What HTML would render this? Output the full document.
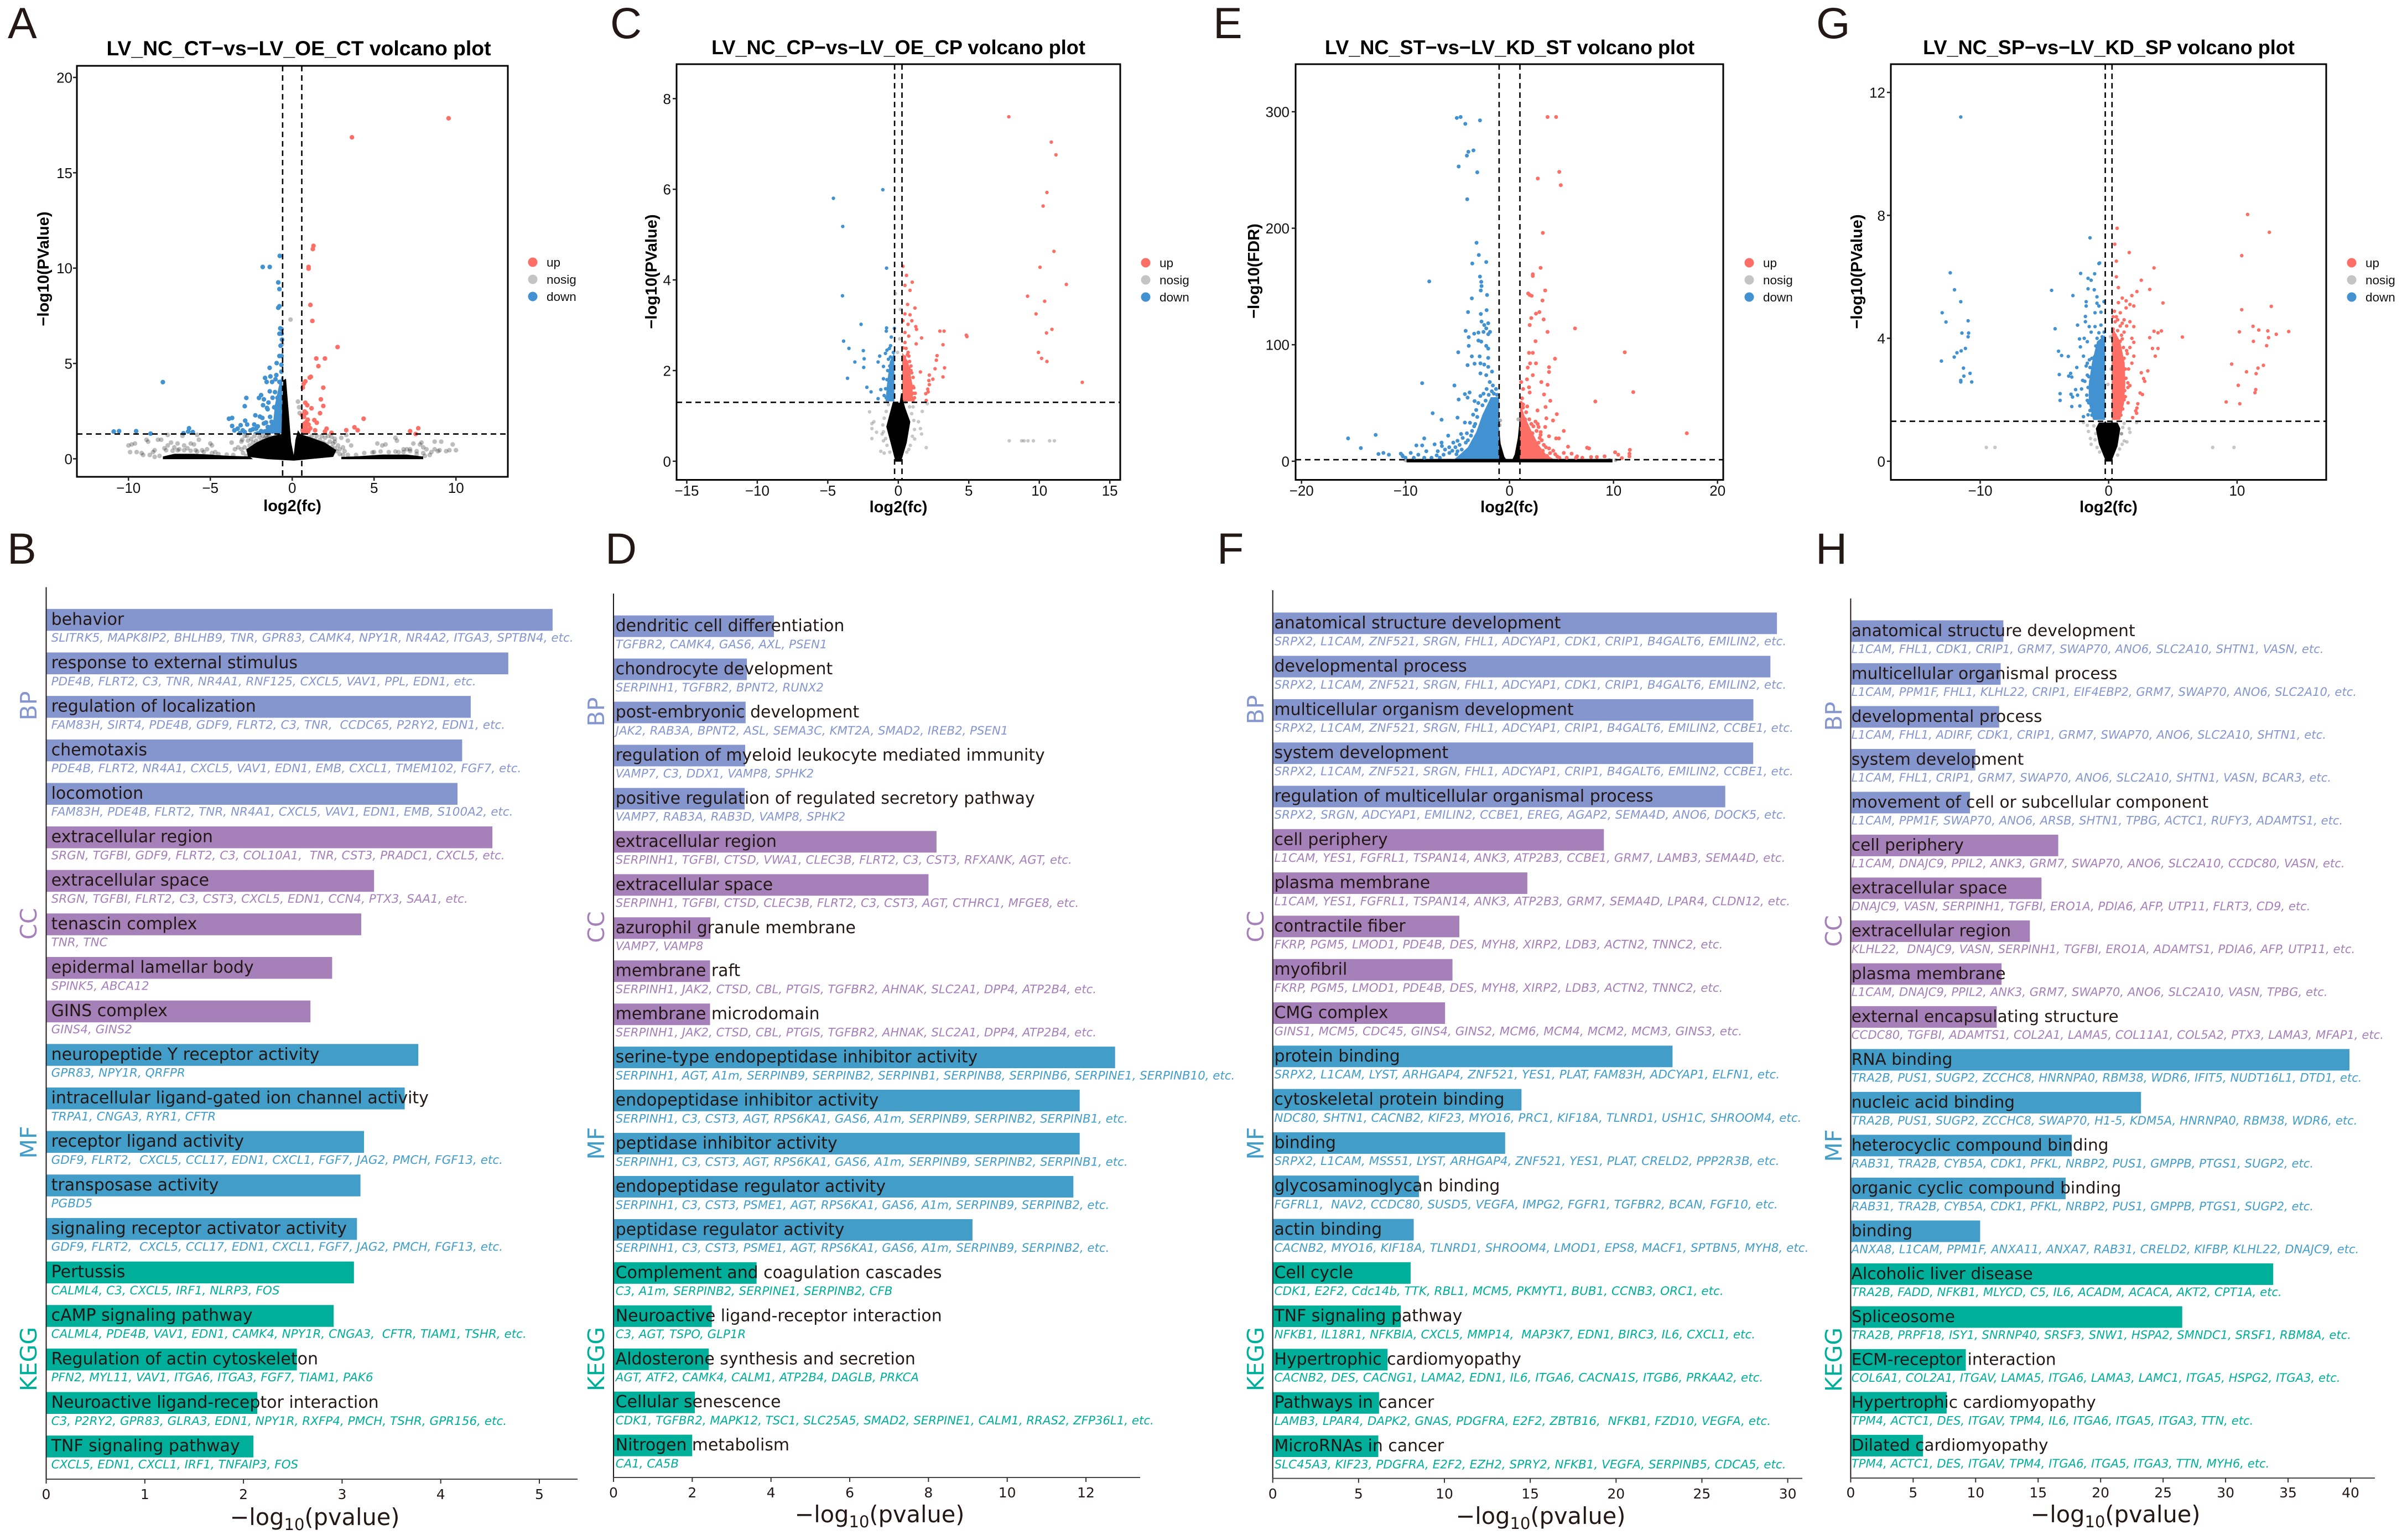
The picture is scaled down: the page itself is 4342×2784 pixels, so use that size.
<!DOCTYPE html>
<html lang="en">
<head>
<meta charset="utf-8">
<title>Volcano plots and enrichment bar charts</title>
<style>
html,body{margin:0;padding:0;background:#fff}
svg{display:block}
.letter{font-family:"Liberation Sans",sans-serif;font-size:79px;fill:#231815}
.vtitle{font-family:"Liberation Sans",sans-serif;font-size:36.1px;font-weight:bold;fill:#000;text-anchor:middle}
.vaxis{font-family:"Liberation Sans",sans-serif;font-size:29px;font-weight:bold;fill:#000;text-anchor:middle}
.vtick{font-family:"Liberation Sans",sans-serif;font-size:26px;fill:#111}
.vleg{font-family:"Liberation Sans",sans-serif;font-size:22.5px;fill:#111}
.blabel{font-family:"DejaVu Sans",sans-serif;fill:#231815;white-space:pre}
.bgene{font-family:"DejaVu Sans",sans-serif;font-style:italic;white-space:pre}
.bcat{font-family:"DejaVu Sans",sans-serif;font-size:41px;text-anchor:middle}
.btick{font-family:"DejaVu Sans",sans-serif;font-size:25px;fill:#231815;text-anchor:middle}
.bxlabel{font-family:"DejaVu Sans",sans-serif;font-size:41.5px;fill:#231815;text-anchor:middle}
</style>
</head>
<body>
<svg id="figure" xmlns="http://www.w3.org/2000/svg" width="4342" height="2784" viewBox="0 0 4342 2784">
<rect x="0" y="0" width="4342" height="2784" fill="#fff"/>
<text class="letter" x="14" y="69">A</text>
<text class="letter" x="1103" y="69">C</text>
<text class="letter" x="2193" y="69">E</text>
<text class="letter" x="3283" y="69">G</text>
<text class="letter" x="13" y="1019">B</text>
<text class="letter" x="1094" y="1019">D</text>
<text class="letter" x="2200" y="1019">F</text>
<text class="letter" x="3282" y="1019">H</text>
<text class="vtitle" style="font-size:37.3px" x="540" y="100">LV_NC_CT−vs−LV_OE_CT volcano plot</text>
<text class="vtitle" x="1624" y="98">LV_NC_CP−vs−LV_OE_CP volcano plot</text>
<text class="vtitle" x="2729" y="98">LV_NC_ST−vs−LV_KD_ST volcano plot</text>
<text class="vtitle" x="3812" y="98">LV_NC_SP−vs−LV_KD_SP volcano plot</text>
<g id="plots"></g>
</svg>
<script>
/* ---------- Volcano A ---------- */
const volcanoAUp = [[9.55,17.86],[3.65,16.86],[1.3,11.17],[1.26,11],[1,10.06],[1,9.97],[1.11,8.07],[1.23,7.23],[2.77,5.86],[1.47,5.26],[2,5.26],[1.6,4.86],[1.14,4.3],[1.07,4.26],[.8,4.06],[.7,3.93],[.65,3.73],[1.9,3.73],[1.75,3.12],[.8,2.94],[.92,2.81],[1.9,2.77],[1.18,2.65],[1.7,2.39],[.76,2.48],[.6,2.3],[4.36,2.1],[1.35,2.03],[1.5,1.89],[.88,1.94],[1,1.8],[.76,1.85],[2.1,1.58],[3.8,1.65],[4,1.5],[3.3,1.5],[7.2,1.45],[7.7,1.6],[7.54,1.3],[2.4,1.36],[2,1.43],[1.4,1.49],[1,1.49],[.64,1.49],[.72,2.2],[.85,2.4],[.66,1.7],[.8,1.6],[1.1,1.6],[.95,2.05]];
const volcanoADown = [[-.76,10.64],[-1.8,10.06],[-1.37,10.06],[-.85,9.25],[-.78,8.9],[-.85,7.92],[-.78,8],[-.73,6.84],[-.65,6.8],[-.78,6.56],[-.65,6.56],[-.62,6.25],[-.71,5.93],[-.78,5.39],[-.65,5.39],[-.95,5.02],[-1.38,4.77],[-.66,4.93],[-.66,4.57],[-7.9,4.02],[-1.66,4.24],[-1.33,4.32],[-.97,4.39],[-1.56,4.03],[-1.23,4.03],[-1.02,4.17],[-.78,4.03],[-1.37,3.54],[-1.9,3.34],[-2.8,3.19],[-2.03,3.19],[-1.73,3.12],[-2.9,2.76],[-1.78,2.81],[-1.54,2.67],[-2.25,2.28],[-1.97,2.21],[-3.86,2.1],[-3.67,2.14],[-2.87,2],[-1.82,2.14],[-3.67,1.72],[-3.15,1.76],[-2.75,1.8],[-3.53,1.49],[-3.33,1.58],[-3.02,1.49],[-2.55,1.49],[-2.32,1.8],[-2.2,1.58],[-1.73,1.85],[-1.49,1.67],[-1.26,1.94],[-10.9,1.43],[-10.57,1.45],[-9.53,1.45],[-8.65,1.32],[-6.64,1.34],[-6.3,1.6],[-6.35,1.43],[-6.07,1.4],[-1.5,2.6],[-1.35,2.2],[-1.6,1.9],[-1.2,3.2],[-1.05,3.5],[-.9,3.2],[-1.1,2.7],[-2.1,1.7],[-2.4,1.55],[-2.9,1.4],[-3.2,1.35],[-1.9,1.45],[-1.3,1.5],[-1.45,2.95]];
const volcanoANosig = [[-10,.7],[-9.9,.35],[-9.8,.75],[-9.6,.8],[-9.5,.35],[-9.2,.3],[-9.1,.2],[-8.9,1],[-8.8,.9],[-8.7,.2],[-8.5,.35],[-8.4,.45],[-8.2,1],[-8,1],[-7.8,.55],[-7.6,.7],[-7.6,1.25],[-7.4,.85],[-7.2,.6],[-7,.8],[-6.9,.5],[-6.7,1.2],[-6.6,.7],[-6.4,.55],[-6.2,.8],[-6,.75],[-5.9,.45],[-5.8,1.25],[-5.7,1],[-5.5,.45],[-5.2,.5],[-5,.8],[-4.9,.7],[-4.7,.35],[-3.7,.85],[-3.5,.5],[-3.3,.6],[-3.1,.9],[-3.1,.5],[2.6,.9],[3,1.1],[3.3,1.25],[3.4,.95],[3.6,.7],[5,.35],[5.2,.8],[5.5,.7],[5.7,.75],[6.3,1.1],[6.4,.95],[6.5,.35],[6.8,.5],[7,.5],[7.2,.5],[7.4,.8],[7.6,.4],[7.8,.75],[7.9,.85],[8,.6],[8,.3],[8.2,.5],[8.4,.2],[8.5,.35],[8.7,.9],[8.7,.5],[8.9,.4],[9,.45],[9.1,.9],[9.4,.4],[9.6,.45],[9.8,.75],[10,.45],[-.1,7.3],[-.62,6],[.35,3],[.42,2.7],[.45,2.4],[-3.05,1],[-2.9,1.2],[-2.7,.95],[-2.75,1.2],[-2.6,.7],[-2.5,1.05],[-2.4,.85],[-2.3,1.2],[-2.2,.95],[-2.15,.7],[-2,1.15],[-1.9,.95],[-1.8,1.2],[-1.7,1.05],[-1.6,1.2],[-1.5,1.15],[-1.4,1.2],[-2.9,.6],[-3,.3],[-2.7,.45],[-2.5,.35],[-2.8,.15],[-2.35,.45],[1,1.1],[1.2,1.2],[1.4,1],[1.5,1.2],[1.7,1],[1.8,1.2],[1.9,.85],[2,1.1],[2.1,.75],[2.2,1.2],[2.3,.9],[2.4,.6],[2.5,.8],[2.6,.55],[2.7,.4],[2.8,.7],[2.9,.5],[3.1,.6],[3.2,.4],[2.6,1.05],[2.4,1.15],[2.9,.25],[3.1,.2],[-7.7,.45],[-7.3,.42],[-7,.45],[-6.6,.45],[-6.2,.42],[-5.8,.38],[-5.4,.35],[-4.9,.3],[-4.5,.25],[-4,.22],[-3.6,.2],[3.4,.2],[3.9,.2],[4.4,.3],[4.9,.33],[5.4,.38],[5.9,.35],[6.3,.38],[6.8,.35],[7.2,.4],[7.6,.25],[8.1,.15],[-8.1,.15],[-8.4,.1]];
const volcanoADownDense = [[-.66,4.3],[-.83,3.75],[-1.05,2.85],[-1.15,2.03],[-1.5,1.6],[-2.3,1.4],[-2.4,1.32],[-.6,1.32],[-.6,4.3]];
const volcanoAUpDense = [[.6,1.9],[.9,1.8],[1.1,1.32],[.6,1.32]];
const volcanoADenseMid = [[-.55,4.12],[-.38,4.2],[-.2,2.3],[-.07,.9],[.09,.2],[.2,1],[.35,1.5],[.5,1.3],[1.2,1.1],[2,.85],[2.7,.45],[2.5,.1],[.1,-.1],[-1.5,-.02],[-2.7,.1],[-2.8,.5],[-2.2,.85],[-1.7,1.05],[-1.2,1.2],[-.66,1.3],[-.62,2.3]];
const volcanoADenseLeft = [[-7.9,-.02],[-2.4,-.02],[-2.6,.12],[-4,.16],[-5,.22],[-6,.26],[-7.2,.26],[-7.9,.12]];
const volcanoADenseRight = [[3,-.02],[8,-.02],[8,.12],[7,.22],[5.5,.22],[4,.13],[3,.1]];
const volcanoAXTicks = [-10,-5,0,5,10];
const volcanoAYTicks = [0,5,10,15,20];
const volcanoAHLine = [1.3];
const volcanoAVLines = [-.585,.585];

/* ---------- Volcano C ---------- */
const volcanoCUp = [[7.84,7.6],[10.85,7.04],[11.18,6.76],[10.54,5.93],[10.27,5.63],[11.04,4.63],[10.05,4.28],[11.92,3.9],[9.17,3.64],[10.38,3.53],[9.77,3.25],[10.9,2.91],[10.51,2.83],[9.94,2.4],[10.16,2.27],[10.54,2.2],[13.05,1.74],[.33,4.3],[.58,4.1],[.99,3.95],[.47,3.88],[.83,3.77],[.66,3.46],[1.18,3.38],[.47,3.25],[.83,3.23],[.33,3.1],[.96,3.1],[.69,3.02],[1.24,2.97],[1.29,2.91],[.47,2.84],[1.65,2.72],[.74,2.76],[2.95,2.87],[3.25,2.87],[4.82,2.78],[4.87,2.75],[1.27,2.59],[3.17,2.57],[.47,2.62],[.55,2.49],[2.75,2.33],[2.7,2.23],[3.28,2.06],[2.61,2.04],[2.2,1.9],[3.17,1.86],[2.45,1.81],[2.17,1.78],[1.57,1.97],[2.2,1.69],[2.09,1.59],[2.12,1.53],[1.95,1.49],[1.98,1.34],[.7,2.4],[.9,2.1],[1.05,1.65],[1.1,1.5],[.95,1.95],[.75,2.32],[.35,2.5],[.45,2.3],[.6,2.15],[.75,2.05],[.9,2],[1.05,1.85],[1.1,1.62],[1.2,1.5],[1.15,1.4],[1.05,1.35],[.5,2.1],[.38,2.2],[.65,2.35],[.8,2.2]];
const volcanoCDown = [[-4.6,5.8],[-1.1,5.99],[-3.94,5.18],[-.83,4.26],[-3.96,3.65],[-2.64,3.02],[-.83,2.94],[-.85,2.87],[-.28,2.93],[-.5,2.74],[-3.88,2.65],[-3.5,2.49],[-2.48,2.44],[-2.42,2.26],[-3.08,2.19],[-2.45,2.07],[-1.43,2.19],[-1.32,2.32],[-.91,2.38],[-.63,2.49],[-3.6,1.83],[-2.23,1.63],[-1.93,1.53],[-1.24,1.58],[-1.43,1.38],[-1.05,1.82],[-1.05,2.09],[-.8,2.45],[-.55,2.55],[-.35,2.4],[-.45,2.2],[-.6,2.1],[-.75,2],[-.8,1.8],[-.9,1.6],[-.85,1.4],[-1,1.45],[-.55,2.3],[-.7,2.25]];
const volcanoCNosig = [[7.87,.45],[8.75,.45],[8.92,.45],[9.2,.45],[9.58,.45],[10.73,.45],[11.07,.45],[-2.04,1.09],[-1.87,.83],[-1.73,.87],[-1.87,.72],[-1.54,.64],[-1.87,.5],[-1.05,.45],[-1.24,.22],[-1,.18],[1.7,1.1],[1.43,.87],[1.57,.72],[1.65,.6],[1.16,.49],[.74,.26],[1.98,.3],[2.06,1.27],[-.2,3.7],[.15,3.35],[.1,2.7],[-.05,2.4],[-.85,1.1],[-.7,1.25],[-1,.95],[-1.1,.8],[-1.15,.6],[-.9,.5],[-.8,.35],[-.6,.2],[-1.05,.65],[.8,1.2],[.95,1.05],[1.1,.9],[1.15,.7],[1,.55],[.85,.35],[.6,.2],[.5,1.3],[1.05,1.2]];
const volcanoCDownDense = [[-.28,1.32],[-.28,2.4],[-.6,2.2],[-.8,1.7],[-.9,1.32]];
const volcanoCUpDense = [[.28,1.32],[.28,2.4],[.7,2.2],[1,1.7],[1.05,1.32]];
const volcanoCDenseMid = [[-.4,1.29],[-.65,1],[-.85,.76],[-.55,.41],[-.2,-.01],[.2,-.01],[.6,.41],[.85,.87],[.5,1.17],[.2,1.5],[.1,1.29],[-.08,1.29]];
const volcanoCXTicks = [-15,-10,-5,0,5,10,15];
const volcanoCYTicks = [0,2,4,6,8];
const volcanoCHLine = [1.3];
const volcanoCVLines = [-.263,.263];

/* ---------- Volcano E ---------- */
const volcanoEUp = [[3.66,295.5],[4.48,295.5],[4.78,248.4],[2.72,242.7],[4.93,237],[3.2,196],[2.99,166],[2.24,160.5],[2.24,159],[3.43,146.6],[1.79,144],[1.94,142.7],[3.17,138],[2.13,142],[2.87,128],[2.54,126.7],[2.09,122.9],[3.28,121.7],[1.94,116.9],[3.66,111],[6.3,114],[2.5,103],[1.87,93],[2.24,93],[11.08,93.5],[4.37,88],[1.98,84],[2.54,84],[3.8,80.7],[1.75,80.4],[2.24,73.9],[3.8,76.6],[1.68,70.3],[3.06,68],[1.12,68],[3.66,65.6],[1.31,62],[1.87,63.5],[1.94,59],[11.9,59.3],[3.32,57.3],[3.92,51.9],[8.25,51.3],[1.31,48.7],[3.47,46.6],[2.69,43.6],[4.55,40.4],[3.54,36.8],[4.18,35],[17.05,24],[5.22,26],[4.48,19.6],[4.75,19.6],[3.8,21.4],[2.99,22.6],[3.43,29.4],[2.8,29.4],[11.57,9.8],[11.53,6.5],[11.53,4.2],[10.15,7.7],[10.45,5.6],[10.8,2.7],[7.46,11.6],[7.65,11],[5.63,12.5],[5.97,6.5],[5.22,7.1],[6.5,4.2],[7.84,3.6],[8.4,3.6],[9.14,4.2],[1.1,50],[1.3,46],[1.6,42],[1.5,36],[1.9,36],[2.1,32],[2.3,30],[2.6,26],[2.2,24],[2.9,20],[3.1,18],[2.8,16],[3.3,14],[3.5,12],[3.8,11],[3.2,9],[3.9,7],[4.2,9],[4.4,6],[4.6,4],[3.6,4.5],[2.5,34],[1.7,47],[1.2,54],[4.8,3],[5.5,3],[6.4,3],[7,3],[3,25],[2.7,32]];
const volcanoEDown = [[-5.07,294.7],[-4.7,295.5],[-4.25,289.6],[-2.84,292.6],[-3.47,266.8],[-3.96,265.6],[-4.1,262.3],[-4.89,253],[-3.1,248],[-4.07,224.9],[-3.17,187.5],[-2.95,177],[-2.24,171],[-3.58,169.7],[-2.84,158.5],[-2.72,154],[-7.72,154.3],[-2.69,150.4],[-2.76,146.6],[-2.16,142.7],[-3.62,139.8],[-2.2,129.7],[-3.99,128],[-2.76,126.4],[-2.69,119.9],[-2.05,118.4],[-2.43,116.9],[-2.24,114],[-4.22,111.9],[-2.99,110.4],[-3.4,109.5],[-1.87,111],[-2.5,111],[-2.05,109],[-3.92,106.5],[-2.99,103.6],[-2.72,102.7],[-3.92,99],[-2.24,99],[-2.05,96.7],[-4.93,93.5],[-3.62,90],[-2.87,90],[-2.05,88.7],[-3.36,83.7],[-4.03,82.5],[-2.8,84],[-2.43,83],[-2.05,81],[-1.68,76.9],[-2.8,75.4],[-2.24,73.9],[-8.4,67],[-5.3,65],[-3.84,59],[-4.29,57.6],[-4.03,54.6],[-4.89,53],[-3.36,51.6],[-7.39,41.2],[-6.53,35.6],[-5,37.4],[-4.29,33.2],[-12.87,22.6],[-15.52,19.6],[-14.3,11.3],[-8.2,19.6],[-12.6,6.2],[-12.13,7.1],[-11.6,5.6],[-10.45,6.5],[-10.26,4.2],[-9.5,7.1],[-8.96,13.6],[-8.4,13.6],[-8.77,5.6],[-8,8.6],[-7.2,14.5],[-6.53,16],[-6.9,8.6],[-5.9,22],[-5.41,16],[-5,17.5],[-4.66,23.4],[-5.78,7.1],[-5,8.6],[-6.34,5.6],[-1.3,62],[-1.6,65],[-1.9,68],[-2.2,62],[-2.5,58],[-2.8,56],[-3,50],[-2.6,48],[-3.2,44],[-3.5,40],[-3.8,33],[-3.3,32],[-3.6,26],[-4.1,24],[-4.5,20],[-4.2,16],[-4.8,14],[-5.2,12],[-5.5,9],[-5.8,12],[-6.2,10],[-6.5,13],[-4.6,10],[-5.1,6],[-3.1,38],[-2.3,52],[-1.5,58],[-1.2,57],[-1.7,60],[-2,57],[-4,18],[-3.7,22],[-3.4,30],[-7.5,3],[-7,5],[-6.7,3],[-8.2,3],[-9.2,3],[-10,3],[-10.3,5]];
const volcanoENosig = [[-.9,35],[-.95,31],[.85,36],[-9.3,.9],[9.6,1],[10.2,.9],[-10,.8]];
const volcanoEDownDense = [[-1,55],[-1.8,55],[-2.6,40],[-3.2,25],[-4,12],[-5,4],[-5.4,1],[-1,1]];
const volcanoEUpDense = [[1,52],[1.4,40],[2,28],[2.8,14],[3.5,6],[4.2,2],[4.2,1],[1,1]];
const volcanoEDenseBand = [[-9.9,-1],[9.9,-1],[9.9,2],[-9.9,2]];
const volcanoEDenseLeft = [[-1,28],[-.85,15],[-.5,4],[-.2,0],[-1,0]];
const volcanoEDenseRight = [[.2,0],[.5,6],[.8,20],[1,38],[1,0]];
const volcanoEXTicks = [-20,-10,0,10,20];
const volcanoEYTicks = [0,100,200,300];
const volcanoEHLine = [1.3];
const volcanoEVLines = [-1,1];

/* ---------- Volcano G ---------- */
const volcanoGUp = [[10.82,8.03],[12.51,7.45],[10.36,6.69],[12.66,5.04],[10.36,4.93],[11.24,4.39],[11.69,4.27],[10.18,4.21],[12.39,4.24],[14.02,4.22],[13.05,4.13],[12.45,4.02],[11.27,3.9],[12.3,3.76],[9.58,3.16],[12.05,3.12],[11.63,3.03],[10.73,2.91],[11.48,2.85],[10.09,2.47],[11.45,2.33],[11.39,2.23],[9.15,1.93],[10.21,1.87],[.66,7.58],[.48,7.06],[1.6,6.79],[.6,6.51],[3.53,6.29],[.6,6],[2.54,5.89],[3.2,5.59],[.76,5.65],[2.2,5.52],[1.81,5.39],[1.06,5.31],[1.36,5.22],[.76,5.16],[4.23,5.15],[1.66,5.1],[1.96,5.05],[1.36,4.99],[.45,4.88],[.91,4.83],[.51,4.54],[1.06,4.49],[1.66,4.54],[1.96,4.38],[3.53,4.23],[4.11,4.24],[3.84,4.18],[3.2,4.02],[5.74,4.04],[1.81,4],[1.06,3.98],[1.96,3.87],[3.41,3.67],[3.84,3.67],[1.66,3.7],[3.63,3.42],[1.96,3.42],[1.81,3.19],[3.05,2.94],[2.54,2.88],[2.72,2.69],[2.81,2.6],[1.66,2.46],[2.45,2.22],[2.63,2.17],[2.27,1.87],[1.51,1.9],[2.2,1.73],[2.11,1.64],[2.18,1.56],[1.87,1.42],[.7,4.6],[.9,4.4],[1.2,4.2],[1.4,3.6],[1.55,3],[1.5,2.4],[1.3,2.1],[.35,4.3],[.5,4.1],[.7,4.25],[.9,3.9],[1,4.1],[1.15,3.7],[1.2,3.35],[1.3,3],[1.35,2.7],[1.25,2.3],[1.2,2],[1.1,1.7],[.95,1.5],[1.45,3.5],[1.5,2.55],[.8,3.75],[.35,4.7],[.6,4.7],[1.2,4.6],[1.4,4.4]];
const volcanoGDown = [[-11.51,11.2],[-12.33,6.13],[-12,5.58],[-11.51,5.19],[-12.96,4.83],[-12.66,4.53],[-10.94,4.57],[-11.42,4.17],[-10.9,4.17],[-10.94,4.05],[-11.15,3.67],[-11.48,3.59],[-11.81,3.53],[-12.02,3.39],[-13.02,3.26],[-11.3,3.03],[-10.79,2.86],[-11.27,2.77],[-11.51,2.63],[-11.51,2.58],[-10.66,2.58],[-1.45,7.27],[-.76,6.43],[-.7,6.45],[-2.18,6.11],[-1.09,6.1],[-1.6,5.95],[-1.36,5.89],[-4.44,5.56],[-1.6,5.61],[-1.12,5.58],[-2.78,5.39],[-.91,5.35],[-1.75,5.19],[-.91,5.14],[-.36,5.19],[-1.75,5.05],[-.76,5.05],[-1.06,4.83],[-.6,4.85],[-1.81,4.71],[-2.42,4.43],[-1.81,4.54],[-4.17,4.31],[-1.51,4.38],[-1.06,4.38],[-.6,4.43],[-1.36,4.2],[-.76,4.18],[-2.27,3.98],[-1.9,4],[-1.66,3.89],[-2.2,3.72],[-3.9,3.58],[-3.66,3.44],[-3.14,3.41],[-1.96,3.42],[-2.48,3.05],[-1.66,3.19],[-2.96,2.86],[-3.84,2.82],[-3.11,2.77],[-2.87,2.74],[-2.02,2.63],[-1.66,2.8],[-2.57,2.33],[-2.11,2.35],[-3.78,2.2],[-2.93,2.18],[-2.42,2.15],[-2.81,2.09],[-3.78,1.98],[-1.66,1.98],[-2.87,1.78],[-2.24,1.8],[-1.96,1.45],[-1.6,1.51],[-.4,3.75],[-.6,3.9],[-.8,3.6],[-1,3.75],[-1.1,3.4],[-1.3,3.35],[-1.45,3.05],[-1.55,2.75],[-1.6,2.4],[-1.7,2.15],[-1.55,1.9],[-1.45,1.65],[-1.3,1.5],[-.35,4.2],[-.5,4.05],[-.9,4],[-1.25,2.1],[-1.4,2.6],[-1.5,3.3],[-1.75,3.1],[-1.85,2.6]];
const volcanoGNosig = [[-9.52,.45],[-8.85,.45],[8.1,.45],[9.76,.45],[-1.96,1.26],[-1.66,1.17],[-1.57,.97],[-1.36,.55],[-1.42,.74],[1.21,1.23],[1.6,1.06],[1.66,.94],[1,.89],[1.21,.66],[1.42,.63],[2.18,1.26],[.15,4.05],[.2,3],[-.05,2.5],[-1,.9],[-1.05,.7],[-.9,.45],[-.7,.3],[1,.9],[1.05,.55],[.85,.4],[.7,.2],[-1.15,1.15],[1.1,1.1]];
const volcanoGDownDense = [[-.27,4.1],[-.9,3.9],[-1.3,3.2],[-1.55,2.5],[-1.55,1.9],[-1.2,1.34],[-.27,1.34]];
const volcanoGUpDense = [[.24,4.4],[.9,3.9],[1.25,3.2],[1.3,2.5],[1.2,1.9],[.9,1.34],[.24,1.34]];
const volcanoGDenseMid = [[-.76,1.26],[-1,1.06],[-.76,.55],[-.21,-.01],[.21,-.01],[.69,.49],[.91,1.06],[.69,1.26]];
const volcanoGXTicks = [-10,0,10];
const volcanoGYTicks = [0,4,8,12];
const volcanoGHLine = [1.3];
const volcanoGVLines = [-.263,.263];

/* ---------- Enrichment B ---------- */
const barBLabels = ["behavior","response to external stimulus","regulation of localization","chemotaxis","locomotion","extracellular region","extracellular space","tenascin complex","epidermal lamellar body","GINS complex","neuropeptide Y receptor activity","intracellular ligand-gated ion channel activity","receptor ligand activity","transposase activity","signaling receptor activator activity","Pertussis","cAMP signaling pathway","Regulation of actin cytoskeleton","Neuroactive ligand-receptor interaction","TNF signaling pathway"];
const barBValues = [5.134,4.685,4.304,4.217,4.17,4.524,3.324,3.194,2.899,2.679,3.773,3.635,3.222,3.186,3.151,3.12,2.915,2.541,2.14,2.101];
const barBGenes = ["SLITRK5, MAPK8IP2, BHLHB9, TNR, GPR83, CAMK4, NPY1R, NR4A2, ITGA3, SPTBN4, etc.","PDE4B, FLRT2, C3, TNR, NR4A1, RNF125, CXCL5, VAV1, PPL, EDN1, etc.","FAM83H, SIRT4, PDE4B, GDF9, FLRT2, C3, TNR,  CCDC65, P2RY2, EDN1, etc.","PDE4B, FLRT2, NR4A1, CXCL5, VAV1, EDN1, EMB, CXCL1, TMEM102, FGF7, etc.","FAM83H, PDE4B, FLRT2, TNR, NR4A1, CXCL5, VAV1, EDN1, EMB, S100A2, etc.","SRGN, TGFBI, GDF9, FLRT2, C3, COL10A1,  TNR, CST3, PRADC1, CXCL5, etc.","SRGN, TGFBI, FLRT2, C3, CST3, CXCL5, EDN1, CCN4, PTX3, SAA1, etc.","TNR, TNC","SPINK5, ABCA12","GINS4, GINS2","GPR83, NPY1R, QRFPR","TRPA1, CNGA3, RYR1, CFTR","GDF9, FLRT2,  CXCL5, CCL17, EDN1, CXCL1, FGF7, JAG2, PMCH, FGF13, etc.","PGBD5","GDF9, FLRT2,  CXCL5, CCL17, EDN1, CXCL1, FGF7, JAG2, PMCH, FGF13, etc.","CALML4, C3, CXCL5, IRF1, NLRP3, FOS","CALML4, PDE4B, VAV1, EDN1, CAMK4, NPY1R, CNGA3,  CFTR, TIAM1, TSHR, etc.","PFN2, MYL11, VAV1, ITGA6, ITGA3, FGF7, TIAM1, PAK6","C3, P2RY2, GPR83, GLRA3, EDN1, NPY1R, RXFP4, PMCH, TSHR, GPR156, etc.","CXCL5, EDN1, CXCL1, IRF1, TNFAIP3, FOS"];
const barBTicks = [0,1,2,3,4,5];

/* ---------- Enrichment D ---------- */
const barDLabels = ["dendritic cell differentiation","chondrocyte development","post-embryonic development","regulation of myeloid leukocyte mediated immunity","positive regulation of regulated secretory pathway","extracellular region","extracellular space","azurophil granule membrane","membrane raft","membrane microdomain","serine-type endopeptidase inhibitor activity","endopeptidase inhibitor activity","peptidase inhibitor activity","endopeptidase regulator activity","peptidase regulator activity","Complement and coagulation cascades","Neuroactive ligand-receptor interaction","Aldosterone synthesis and secretion","Cellular senescence","Nitrogen metabolism"];
const barDValues = [4.075,3.387,3.355,3.344,3.333,8.204,8,2.462,2.452,2.452,12.74,11.84,11.84,11.68,9.118,3.634,2.495,2.419,2.065,2];
const barDGenes = ["TGFBR2, CAMK4, GAS6, AXL, PSEN1","SERPINH1, TGFBR2, BPNT2, RUNX2","JAK2, RAB3A, BPNT2, ASL, SEMA3C, KMT2A, SMAD2, IREB2, PSEN1","VAMP7, C3, DDX1, VAMP8, SPHK2","VAMP7, RAB3A, RAB3D, VAMP8, SPHK2","SERPINH1, TGFBI, CTSD, VWA1, CLEC3B, FLRT2, C3, CST3, RFXANK, AGT, etc.","SERPINH1, TGFBI, CTSD, CLEC3B, FLRT2, C3, CST3, AGT, CTHRC1, MFGE8, etc.","VAMP7, VAMP8","SERPINH1, JAK2, CTSD, CBL, PTGIS, TGFBR2, AHNAK, SLC2A1, DPP4, ATP2B4, etc.","SERPINH1, JAK2, CTSD, CBL, PTGIS, TGFBR2, AHNAK, SLC2A1, DPP4, ATP2B4, etc.","SERPINH1, AGT, A1m, SERPINB9, SERPINB2, SERPINB1, SERPINB8, SERPINB6, SERPINE1, SERPINB10, etc.","SERPINH1, C3, CST3, AGT, RPS6KA1, GAS6, A1m, SERPINB9, SERPINB2, SERPINB1, etc.","SERPINH1, C3, CST3, AGT, RPS6KA1, GAS6, A1m, SERPINB9, SERPINB2, SERPINB1, etc.","SERPINH1, C3, CST3, PSME1, AGT, RPS6KA1, GAS6, A1m, SERPINB9, SERPINB2, etc.","SERPINH1, C3, CST3, PSME1, AGT, RPS6KA1, GAS6, A1m, SERPINB9, SERPINB2, etc.","C3, A1m, SERPINB2, SERPINE1, SERPINB2, CFB","C3, AGT, TSPO, GLP1R","AGT, ATF2, CAMK4, CALM1, ATP2B4, DAGLB, PRKCA","CDK1, TGFBR2, MAPK12, TSC1, SLC25A5, SMAD2, SERPINE1, CALM1, RRAS2, ZFP36L1, etc.","CA1, CA5B"];
const barDTicks = [0,2,4,6,8,10,12];

/* ---------- Enrichment F ---------- */
const barFLabels = ["anatomical structure development","developmental process","multicellular organism development","system development","regulation of multicellular organismal process","cell periphery","plasma membrane","contractile fiber","myofibril","CMG complex","protein binding","cytoskeletal protein binding","binding","glycosaminoglycan binding","actin binding","Cell cycle","TNF signaling pathway","Hypertrophic cardiomyopathy","Pathways in cancer","MicroRNAs in cancer"];
const barFValues = [29.37,28.99,28,27.99,26.36,19.29,14.83,10.87,10.47,10.04,23.29,14.49,13.54,8.52,8.21,8.03,7.46,6.69,6.19,6.15];
const barFGenes = ["SRPX2, L1CAM, ZNF521, SRGN, FHL1, ADCYAP1, CDK1, CRIP1, B4GALT6, EMILIN2, etc.","SRPX2, L1CAM, ZNF521, SRGN, FHL1, ADCYAP1, CDK1, CRIP1, B4GALT6, EMILIN2, etc.","SRPX2, L1CAM, ZNF521, SRGN, FHL1, ADCYAP1, CRIP1, B4GALT6, EMILIN2, CCBE1, etc.","SRPX2, L1CAM, ZNF521, SRGN, FHL1, ADCYAP1, CRIP1, B4GALT6, EMILIN2, CCBE1, etc.","SRPX2, SRGN, ADCYAP1, EMILIN2, CCBE1, EREG, AGAP2, SEMA4D, ANO6, DOCK5, etc.","L1CAM, YES1, FGFRL1, TSPAN14, ANK3, ATP2B3, CCBE1, GRM7, LAMB3, SEMA4D, etc.","L1CAM, YES1, FGFRL1, TSPAN14, ANK3, ATP2B3, GRM7, SEMA4D, LPAR4, CLDN12, etc.","FKRP, PGM5, LMOD1, PDE4B, DES, MYH8, XIRP2, LDB3, ACTN2, TNNC2, etc.","FKRP, PGM5, LMOD1, PDE4B, DES, MYH8, XIRP2, LDB3, ACTN2, TNNC2, etc.","GINS1, MCM5, CDC45, GINS4, GINS2, MCM6, MCM4, MCM2, MCM3, GINS3, etc.","SRPX2, L1CAM, LYST, ARHGAP4, ZNF521, YES1, PLAT, FAM83H, ADCYAP1, ELFN1, etc.","NDC80, SHTN1, CACNB2, KIF23, MYO16, PRC1, KIF18A, TLNRD1, USH1C, SHROOM4, etc.","SRPX2, L1CAM, MSS51, LYST, ARHGAP4, ZNF521, YES1, PLAT, CRELD2, PPP2R3B, etc.","FGFRL1,  NAV2, CCDC80, SUSD5, VEGFA, IMPG2, FGFR1, TGFBR2, BCAN, FGF10, etc.","CACNB2, MYO16, KIF18A, TLNRD1, SHROOM4, LMOD1, EPS8, MACF1, SPTBN5, MYH8, etc.","CDK1, E2F2, Cdc14b, TTK, RBL1, MCM5, PKMYT1, BUB1, CCNB3, ORC1, etc.","NFKB1, IL18R1, NFKBIA, CXCL5, MMP14,  MAP3K7, EDN1, BIRC3, IL6, CXCL1, etc.","CACNB2, DES, CACNG1, LAMA2, EDN1, IL6, ITGA6, CACNA1S, ITGB6, PRKAA2, etc.","LAMB3, LPAR4, DAPK2, GNAS, PDGFRA, E2F2, ZBTB16,  NFKB1, FZD10, VEGFA, etc.","SLC45A3, KIF23, PDGFRA, E2F2, EZH2, SPRY2, NFKB1, VEGFA, SERPINB5, CDCA5, etc."];
const barFTicks = [0,5,10,15,20,25,30];

/* ---------- Enrichment H ---------- */
const barHLabels = ["anatomical structure development","multicellular organismal process","developmental process","system development","movement of cell or subcellular component","cell periphery","extracellular space","extracellular region","plasma membrane","external encapsulating structure","RNA binding","nucleic acid binding","heterocyclic compound binding","organic cyclic compound binding","binding","Alcoholic liver disease","Spliceosome","ECM-receptor interaction","Hypertrophic cardiomyopathy","Dilated cardiomyopathy"];
const barHValues = [12.22,12,11.88,9.98,9.55,16.61,15.27,14.34,12.07,11.69,39.91,23.23,17.7,17.2,10.36,33.81,26.53,9.21,7.68,5.79];
const barHGenes = ["L1CAM, FHL1, CDK1, CRIP1, GRM7, SWAP70, ANO6, SLC2A10, SHTN1, VASN, etc.","L1CAM, PPM1F, FHL1, KLHL22, CRIP1, EIF4EBP2, GRM7, SWAP70, ANO6, SLC2A10, etc.","L1CAM, FHL1, ADIRF, CDK1, CRIP1, GRM7, SWAP70, ANO6, SLC2A10, SHTN1, etc.","L1CAM, FHL1, CRIP1, GRM7, SWAP70, ANO6, SLC2A10, SHTN1, VASN, BCAR3, etc.","L1CAM, PPM1F, SWAP70, ANO6, ARSB, SHTN1, TPBG, ACTC1, RUFY3, ADAMTS1, etc.","L1CAM, DNAJC9, PPIL2, ANK3, GRM7, SWAP70, ANO6, SLC2A10, CCDC80, VASN, etc.","DNAJC9, VASN, SERPINH1, TGFBI, ERO1A, PDIA6, AFP, UTP11, FLRT3, CD9, etc.","KLHL22,  DNAJC9, VASN, SERPINH1, TGFBI, ERO1A, ADAMTS1, PDIA6, AFP, UTP11, etc.","L1CAM, DNAJC9, PPIL2, ANK3, GRM7, SWAP70, ANO6, SLC2A10, VASN, TPBG, etc.","CCDC80, TGFBI, ADAMTS1, COL2A1, LAMA5, COL11A1, COL5A2, PTX3, LAMA3, MFAP1, etc.","TRA2B, PUS1, SUGP2, ZCCHC8, HNRNPA0, RBM38, WDR6, IFIT5, NUDT16L1, DTD1, etc.","TRA2B, PUS1, SUGP2, ZCCHC8, SWAP70, H1-5, KDM5A, HNRNPA0, RBM38, WDR6, etc.","RAB31, TRA2B, CYB5A, CDK1, PFKL, NRBP2, PUS1, GMPPB, PTGS1, SUGP2, etc.","RAB31, TRA2B, CYB5A, CDK1, PFKL, NRBP2, PUS1, GMPPB, PTGS1, SUGP2, etc.","ANXA8, L1CAM, PPM1F, ANXA11, ANXA7, RAB31, CRELD2, KIFBP, KLHL22, DNAJC9, etc.","TRA2B, FADD, NFKB1, MLYCD, C5, IL6, ACADM, ACACA, AKT2, CPT1A, etc.","TRA2B, PRPF18, ISY1, SNRNP40, SRSF3, SNW1, HSPA2, SMNDC1, SRSF1, RBM8A, etc.","COL6A1, COL2A1, ITGAV, LAMA5, ITGA6, LAMA3, LAMC1, ITGA5, HSPG2, ITGA3, etc.","TPM4, ACTC1, DES, ITGAV, TPM4, IL6, ITGA6, ITGA5, ITGA3, TTN, etc.","TPM4, ACTC1, DES, ITGAV, TPM4, ITGA6, ITGA5, ITGA3, TTN, MYH6, etc."];
const barHTicks = [0,5,10,15,20,25,30,35,40];

/* ---------- Shared categories ---------- */
const categoryNames = ["BP","CC","MF","KEGG"];
const categoryColors = ["#8596cf","#a580b9","#429dc8","#00af9a"];
const rowsPerCategory = [5,5,5,5];

/* ---------- Layout (not data) ---------- */
const colorUp = "#fb6f66", colorDown = "#4291d1";
const SVGNS = "http://www.w3.org/2000/svg";
const plotsRoot = document.getElementById("plots");

function mk(tag, attrs, parent) {
  const e = document.createElementNS(SVGNS, tag);
  for (const k in attrs) e.setAttribute(k, attrs[k]);
  parent.appendChild(e);
  return e;
}
function fmt(v) { return String(v).replace("-", "\u2212"); }

function drawVolcano(cfg) {
  const g = mk("g", {}, plotsRoot);
  
  
  const sx = v => cfg.x0 + v * cfg.xUnit;
  const sy = v => cfg.y0 - v * cfg.yUnit;
  const poly = (pts, fill, name) => {
    const p = mk("polygon", {points: pts.map(d => sx(d[0]).toFixed(1) + "," + sy(d[1]).toFixed(1)).join(" "), fill: fill}, g);
    
    
  };
  cfg.dense.forEach(d => poly(d.pts, d.fill, cfg.id + '-' + d.name));
  const dots = (pts, fill, op, name) => pts.forEach(d => {
    const c = mk("circle", {cx: sx(d[0]).toFixed(1), cy: sy(d[1]).toFixed(1), r: cfg.r, fill: fill, "fill-opacity": op}, g);
    
    
  });
  dots(cfg.nosig, "#000", cfg.nosigOp, cfg.id + '-nosig-point');
  dots(cfg.down, colorDown, 1, cfg.id + '-down-point');
  dots(cfg.up, colorUp, 1, cfg.id + '-up-point');
  const F = cfg.frame;
  cfg.hline.forEach(v => {
    const l = mk("line", {x1: F[0], x2: F[2], y1: sy(v), y2: sy(v), stroke: "#000", "stroke-width": 2.6, "stroke-dasharray": "10 7"}, g);
    
    
  });
  cfg.vline.forEach(v => {
    const l = mk("line", {x1: sx(v), x2: sx(v), y1: F[1], y2: F[3], stroke: "#000", "stroke-width": 2.6, "stroke-dasharray": "10 7"}, g);
    
    
  });
  const fr = mk("rect", {x: F[0], y: F[1], width: F[2] - F[0], height: F[3] - F[1], fill: "none", stroke: "#000", "stroke-width": 3}, g);
  
  
  cfg.xTicks.forEach(v => {
    const t = mk("line", {x1: sx(v), x2: sx(v), y1: F[3], y2: F[3] + 7, stroke: "#222", "stroke-width": 2.5}, g);
    
    
    const s = mk("text", {x: sx(v), y: cfg.xTickY, "text-anchor": "middle", class: "vtick"}, g);
    s.textContent = fmt(v);
    
    
  });
  cfg.yTicks.forEach(v => {
    const t = mk("line", {x1: F[0] - 7, x2: F[0], y1: sy(v), y2: sy(v), stroke: "#222", "stroke-width": 2.5}, g);
    
    
    const s = mk("text", {x: cfg.yTickX, y: sy(v) + 9.5, "text-anchor": "end", class: "vtick"}, g);
    s.textContent = fmt(v);
    
    
  });
  const xl = mk("text", {x: (F[0] + F[2]) / 2, y: cfg.xLabelY, class: "vaxis"}, g);
  xl.textContent = "log2(fc)";
  
  
  const yl = mk("text", {class: "vaxis", transform: "translate(" + cfg.yLabelX + "," + cfg.yLabelY + ") rotate(-90)"}, g);
  yl.textContent = cfg.yLabel;
  
  
  [["up", colorUp, 1], ["nosig", "#c4c4c4", 1], ["down", colorDown, 1]].forEach((e, i) => {
    const cy = cfg.legY + i * 31;
    const c = mk("circle", {cx: cfg.legX, cy: cy, r: 8.5, fill: e[1]}, g);
    
    
    const s = mk("text", {x: cfg.legX + 25, y: cy + 8, class: "vleg"}, g);
    s.textContent = e[0];
    
    
  });
}

function drawBars(cfg) {
  const g = mk("g", {}, plotsRoot);
  
  
  const sx = v => cfg.x0 + v * cfg.xUnit;
  let row = 0;
  rowsPerCategory.forEach((n, ci) => {
    const color = categoryColors[ci];
    for (let k = 0; k < n; k++, row++) {
      const top = cfg.top + row * cfg.pitch;
      const r = mk("rect", {x: cfg.x0, y: top.toFixed(1), width: (sx(cfg.values[row]) - cfg.x0).toFixed(1), height: cfg.barH, fill: color}, g);
      
      
      const t = mk("text", {x: cfg.labelX, y: (top + 28.5).toFixed(1), class: "blabel", "font-size": cfg.labelSize}, g);
      t.textContent = cfg.labels[row];
      
      
      const s = mk("text", {x: cfg.labelX, y: (top + 59.3).toFixed(1), class: "bgene", "font-size": cfg.geneSize, fill: color}, g);
      s.textContent = cfg.genes[row];
      
      
    }
    const c = mk("text", {class: "bcat", fill: color, transform: "translate(" + cfg.catX + "," + cfg.catY[ci] + ") rotate(-90)"}, g);
    c.textContent = categoryNames[ci];
    
    
  });
  const a1 = mk("line", {x1: cfg.x0, x2: cfg.x0, y1: cfg.axisTop, y2: cfg.axisBottom, stroke: "#231815", "stroke-width": 2}, g);
  
  
  const a2 = mk("line", {x1: cfg.x0, x2: cfg.axisEnd, y1: cfg.axisBottom, y2: cfg.axisBottom, stroke: "#444", "stroke-width": 2}, g);
  
  
  cfg.ticks.forEach(v => {
    const t = mk("line", {x1: sx(v), x2: sx(v), y1: cfg.axisBottom, y2: cfg.axisBottom + 8, stroke: "#333", "stroke-width": 2}, g);
    
    
    const s = mk("text", {x: sx(v), y: cfg.tickY, class: "btick"}, g);
    s.textContent = fmt(v);
    
    
  });
  const xl = mk("text", {x: cfg.xLabelX, y: cfg.xLabelY, class: "bxlabel"}, g);
  
  
  xl.appendChild(document.createTextNode("\u2212log"));
  mk("tspan", {dy: 9, "font-size": 29}, xl).textContent = "10";
  mk("tspan", {dy: -9}, xl).textContent = "(pvalue)";
}

drawVolcano({id:"volcano-a",frame:[139,119,918,862],x0:528.2,xUnit:29.6,y0:829.4,yUnit:34.47,r:4.2,nosigOp:.26,
  up:volcanoAUp,down:volcanoADown,nosig:volcanoANosig,hline:volcanoAHLine,vline:volcanoAVLines,xTicks:volcanoAXTicks,yTicks:volcanoAYTicks,
  dense:[{name:"down-dense",pts:volcanoADownDense,fill:colorDown},{name:"up-dense",pts:volcanoAUpDense,fill:colorUp},{name:"nosig-dense-mid",pts:volcanoADenseMid,fill:"#000"},{name:"nosig-dense-left",pts:volcanoADenseLeft,fill:"#000"},{name:"nosig-dense-right",pts:volcanoADenseRight,fill:"#000"}],
  xTickY:891,yTickX:131,xLabelY:924,yLabel:"\u2212log10(PValue)",yLabelX:88,yLabelY:486,legX:963,legY:474});
drawVolcano({id:"volcano-c",frame:[1223,116,2025,867.5],x0:1623.8,xUnit:25.49,y0:833.8,yUnit:81.94,r:3.2,nosigOp:.22,
  up:volcanoCUp,down:volcanoCDown,nosig:volcanoCNosig,hline:volcanoCHLine,vline:volcanoCVLines,xTicks:volcanoCXTicks,yTicks:volcanoCYTicks,
  dense:[{name:"down-dense",pts:volcanoCDownDense,fill:colorDown},{name:"up-dense",pts:volcanoCUpDense,fill:colorUp},{name:"nosig-dense-mid",pts:volcanoCDenseMid,fill:"#000"}],
  xTickY:896,yTickX:1213,xLabelY:926,yLabel:"\u2212log10(PValue)",yLabelX:1187,yLabelY:491,legX:2071,legY:475});
drawVolcano({id:"volcano-e",frame:[2342,116,3115,867.5],x0:2728.7,xUnit:18.8,y0:833.8,yUnit:2.106,r:3.5,nosigOp:.3,
  up:volcanoEUp,down:volcanoEDown,nosig:volcanoENosig,hline:volcanoEHLine,vline:volcanoEVLines,xTicks:volcanoEXTicks,yTicks:volcanoEYTicks,
  dense:[{name:"down-dense",pts:volcanoEDownDense,fill:colorDown},{name:"up-dense",pts:volcanoEUpDense,fill:colorUp},{name:"nosig-dense-band",pts:volcanoEDenseBand,fill:"#000"},{name:"nosig-dense-left",pts:volcanoEDenseLeft,fill:"#000"},{name:"nosig-dense-right",pts:volcanoEDenseRight,fill:"#000"}],
  xTickY:896,yTickX:2331,xLabelY:926,yLabel:"\u2212log10(FDR)",yLabelX:2276,yLabelY:490,legX:3162,legY:475});
drawVolcano({id:"volcano-g",frame:[3418,116,4205,867.5],x0:3811.7,xUnit:23.22,y0:833.8,yUnit:55.56,r:3.2,nosigOp:.22,
  up:volcanoGUp,down:volcanoGDown,nosig:volcanoGNosig,hline:volcanoGHLine,vline:volcanoGVLines,xTicks:volcanoGXTicks,yTicks:volcanoGYTicks,
  dense:[{name:"down-dense",pts:volcanoGDownDense,fill:colorDown},{name:"up-dense",pts:volcanoGUpDense,fill:colorUp},{name:"nosig-dense-mid",pts:volcanoGDenseMid,fill:"#000"}],
  xTickY:896,yTickX:3408,xLabelY:926,yLabel:"\u2212log10(PValue)",yLabelX:3366,yLabelY:491,legX:4251,legY:475});

drawBars({id:"enrichment-b",labels:barBLabels,values:barBValues,genes:barBGenes,ticks:barBTicks,x0:83.5,xUnit:178.3,top:1100.8,pitch:78.65,barH:39.5,labelX:92.6,labelSize:30,geneSize:21.5,axisTop:1061.5,axisBottom:2674,axisEnd:1044,tickY:2710,xLabelX:569,xLabelY:2757,catX:66,catY:[1276,1670,2065,2457]});
drawBars({id:"enrichment-d",labels:barDLabels,values:barDValues,genes:barDGenes,ticks:barDTicks,x0:1109,xUnit:71.17,top:1112.6,pitch:77.95,barH:39,labelX:1112.8,labelSize:29.9,geneSize:21.3,axisTop:1073,axisBottom:2671,axisEnd:2061,tickY:2707,xLabelX:1590,xLabelY:2752,catX:1092,catY:[1287,1676,2067,2457]});
drawBars({id:"enrichment-f",labels:barFLabels,values:barFValues,genes:barFGenes,ticks:barFTicks,x0:2300.7,xUnit:31.03,top:1107.3,pitch:78.3,barH:39,labelX:2303.5,labelSize:29.9,geneSize:21.5,axisTop:1067,axisBottom:2672.6,axisEnd:3258,tickY:2709,xLabelX:2785,xLabelY:2755,catX:2284,catY:[1283,1675,2067,2457]});
drawBars({id:"enrichment-h",labels:barHLabels,values:barHValues,genes:barHGenes,ticks:barHTicks,x0:3345.4,xUnit:22.59,top:1121.4,pitch:77.5,barH:39,labelX:3346.8,labelSize:29.6,geneSize:21.15,axisTop:1082,axisBottom:2672,axisEnd:4293,tickY:2707,xLabelX:3824,xLabelY:2752,catX:3329,catY:[1295,1683,2071,2458]});
</script>
</body>
</html>
